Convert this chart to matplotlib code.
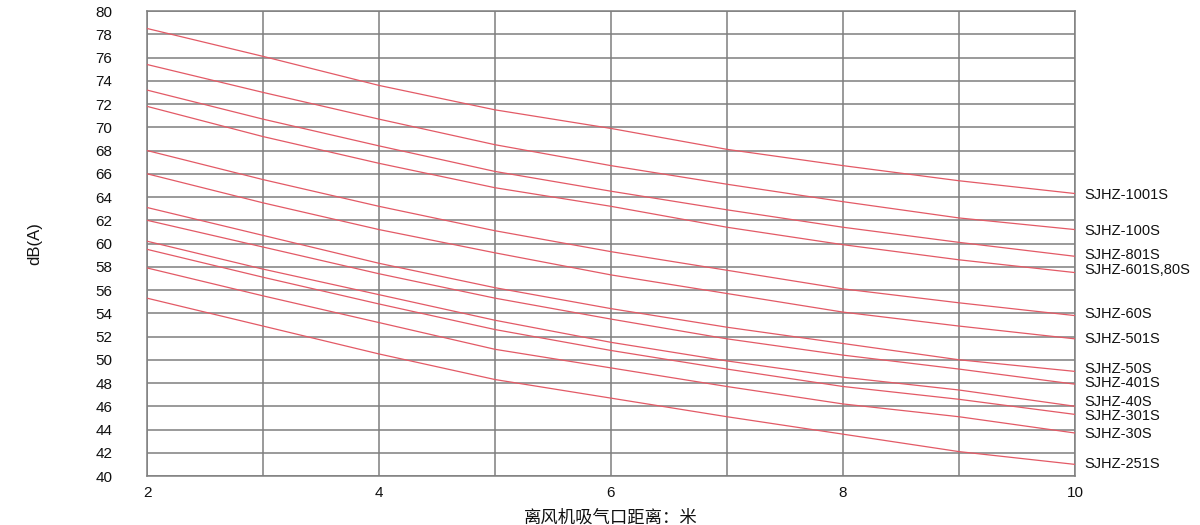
import matplotlib
matplotlib.use("Agg")
import matplotlib.pyplot as plt

distance = [2, 3, 4, 5, 6, 7, 8, 9, 10]
x_ticks = [2, 4, 6, 8, 10]
y_ticks = list(range(40, 81, 2))

models = ["SJHZ-1001S", "SJHZ-100S", "SJHZ-801S", "SJHZ-601S,80S", "SJHZ-60S",
          "SJHZ-501S", "SJHZ-50S", "SJHZ-401S", "SJHZ-40S", "SJHZ-301S",
          "SJHZ-30S", "SJHZ-251S"]

s1001 = [78.5, 76.1, 73.6, 71.5, 69.9, 68.1, 66.7, 65.4, 64.3]
s100 = [75.4, 73.0, 70.7, 68.5, 66.7, 65.1, 63.6, 62.2, 61.2]
s801 = [73.2, 70.7, 68.4, 66.2, 64.5, 62.9, 61.4, 60.1, 58.9]
s601 = [71.8, 69.2, 66.9, 64.8, 63.2, 61.4, 59.9, 58.6, 57.5]
s60 = [68.0, 65.5, 63.2, 61.1, 59.3, 57.7, 56.1, 54.9, 53.8]
s501 = [66.0, 63.5, 61.2, 59.2, 57.3, 55.7, 54.1, 52.9, 51.8]
s50 = [63.1, 60.7, 58.3, 56.2, 54.4, 52.8, 51.4, 50.0, 49.0]
s401 = [62.0, 59.7, 57.4, 55.3, 53.5, 51.8, 50.4, 49.2, 47.9]
s40 = [60.2, 57.8, 55.6, 53.4, 51.5, 49.9, 48.5, 47.4, 46.0]
s301 = [59.5, 57.1, 54.8, 52.6, 50.8, 49.2, 47.7, 46.6, 45.3]
s30 = [57.9, 55.5, 53.2, 50.9, 49.3, 47.7, 46.2, 45.1, 43.7]
s251 = [55.3, 52.9, 50.5, 48.3, 46.7, 45.1, 43.6, 42.1, 41.0]

label_y = [64.2, 61.1, 59.0, 57.7, 53.9, 51.8, 49.2, 48.0, 46.4, 45.2, 43.6, 41.0]

series = [s1001, s100, s801, s601, s60, s501, s50, s401, s40, s301, s30, s251]

plt.rcParams['font.family'] = ['Liberation Sans', 'DejaVu Sans']

fig = plt.figure(figsize=(12, 5.25), dpi=100)
ax = fig.add_axes([0.1225, 0.0933, 0.7733, 0.8857])

grid_color = '#7f7f7f'
for xv in distance:
    ax.axvline(xv, color=grid_color, lw=1.1, zorder=1)
for yv in y_ticks:
    ax.axhline(yv, color=grid_color, lw=1.1, zorder=1)

line_color = '#e35a66'
for vals in series:
    ax.plot(distance, vals, color=line_color, lw=0.9, zorder=3)

for name, yl in zip(models, label_y):
    ax.annotate(name, xy=(1, yl), xycoords=('axes fraction', 'data'),
                xytext=(7, 0), textcoords='offset points',
                va='center', ha='left', fontsize=10.5, color='#111111',
                annotation_clip=False)

ax.set_xlim(2, 10)
ax.set_ylim(40, 80)
ax.set_xticks(x_ticks)
ax.set_yticks(y_ticks)
ax.tick_params(axis='both', length=0, labelsize=11, colors='#111111')
ax.tick_params(axis='y', pad=25)
ax.tick_params(axis='x', pad=7)
for sp in ax.spines.values():
    sp.set_color(grid_color)
    sp.set_linewidth(1.1)

ax.set_ylabel('dB(A)', fontsize=12, color='#111111')
ax.yaxis.set_label_coords(-0.113, 0.5)
ax.set_xlabel('离风机吸气口距离：米', fontsize=12.5, color='#111111',
              family=['Noto Sans CJK SC', 'DejaVu Sans'])
ax.xaxis.set_label_coords(0.5, -0.07)

fig.savefig('out.png', dpi=100)
